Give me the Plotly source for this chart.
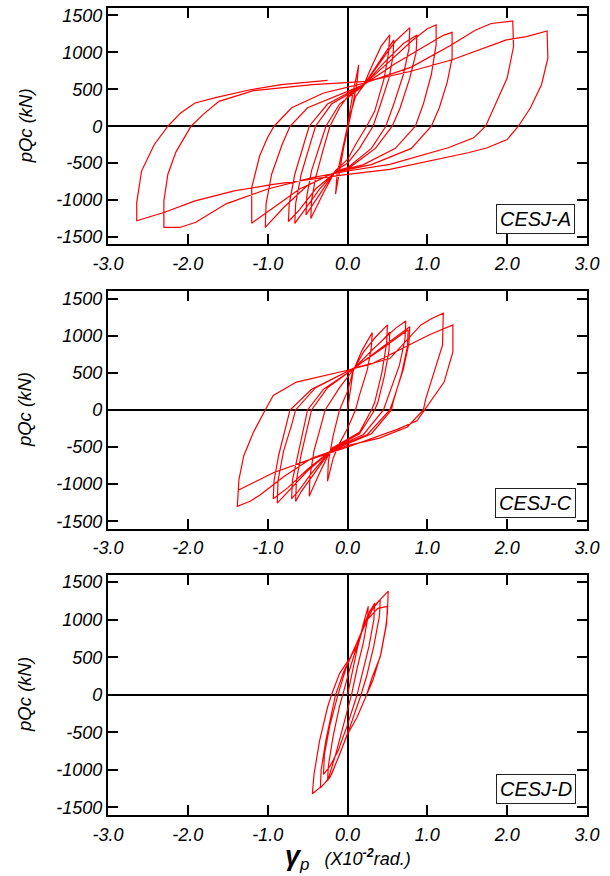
import plotly.graph_objects as go

# ---------------- data ----------------
x_ticks = [-3.0, -2.0, -1.0, 0.0, 1.0, 2.0, 3.0]
x_tick_text = ["-3.0", "-2.0", "-1.0", "0.0", "1.0", "2.0", "3.0"]
y_ticks = [-1500, -1000, -500, 0, 500, 1000, 1500]
y_tick_text = ["-1500", "-1000", "-500", "0", "500", "1000", "1500"]
specimens = ["CESJ-A", "CESJ-C", "CESJ-D"]

# CESJ-A : plastic shear rotation (x10^-2 rad) and shear force (kN)
gamma_A = [0, 0.06, 0.14, 0.12, 0.05, -0.05, -0.15, -0.13, -0.05, 0.02,
           0.1, 0.2, 0.3, 0.42, 0.53,
           0.51, 0.46, 0.34, 0.24, 0.1, 0, -0.15, -0.3, -0.42, -0.46,
           -0.45, -0.40, -0.3, -0.22, -0.1, 0.0, 0.2, 0.35, 0.5, 0.58,
           0.57, 0.52, 0.4, 0.32, 0.15, 0, -0.15, -0.3, -0.45, -0.52,
           -0.51, -0.45, -0.33, -0.27, -0.1, 0.2, 0.4, 0.6, 0.78,
           0.77, 0.7, 0.58, 0.48, 0.3, 0, -0.15, -0.35, -0.55, -0.66,
           -0.65, -0.58, -0.47, -0.4, -0.2, 0.2, 0.45, 0.7, 0.87,
           0.86, 0.78, 0.66, 0.56, 0.35, 0, -0.15, -0.4, -0.6, -0.74,
           -0.73, -0.66, -0.55, -0.48, -0.25, 0.2, 0.5, 0.8, 1.0, 1.11,
           1.11, 1.05, 0.95, 0.85, 0.6, 0.2, -0.15, -0.5, -0.8, -1.03,
           -1.02, -0.95, -0.82, -0.72, -0.5, 0.2, 0.6, 1.0, 1.2, 1.31,
           1.31, 1.25, 1.15, 1.05, 0.8, 0.3, -0.15, -0.6, -1.0, -1.2,
           -1.2, -1.1, -1.0, -0.92, -0.7, -0.3, 0.2, 0.8, 1.3, 1.6, 1.8, 2.07,
           2.08, 2.0, 1.87, 1.73, 1.58, 1.26, 0.53, 0, -0.44, -1.0, -1.52, -1.9, -2.1, -2.3,
           -2.3, -2.25, -2.15, -1.96, -1.81, -1.61, -1.18, -0.44, 0.24, 0.78, 1.31, 1.70, 1.99, 2.24, 2.50,
           2.51, 2.43, 2.29, 2.14, 2.0, 1.75, 1.51, 1.02, 0.53, 0, -0.93, -1.42, -1.91, -2.30, -2.64,
           -2.64, -2.58, -2.42, -2.25, -2.09, -1.91, -1.64, -1.22, -0.83, -0.25]
Q_A = [0, 400, 830, 600, 200, -300, -920, -650, -250, 100,
       400, 550, 800, 1080, 1235,
       966, 651, 202, 0, -250, -450, -600, -900, -1150, -1249,
       -1000, -700, -300, 0, 250, 400, 550, 800, 1050, 1168,
       950, 650, 250, 0, -300, -500, -600, -850, -1100, -1200,
       -950, -600, -200, 0, 300, 550, 850, 1150, 1334,
       1050, 700, 300, 0, -300, -560, -610, -850, -1150, -1316,
       -1050, -650, -250, 0, 300, 550, 850, 1120, 1235,
       1000, 650, 250, 0, -300, -580, -620, -850, -1130, -1289,
       -1050, -650, -250, 0, 300, 560, 850, 1150, 1320, 1370,
       1100, 700, 300, 0, -300, -520, -620, -800, -1100, -1370,
       -1050, -650, -250, 0, 250, 560, 850, 1100, 1230, 1271,
       921, 600, 250, 0, -300, -520, -620, -850, -1150, -1312,
       -831, -400, -150, 0, 250, 450, 580, 800, 1100, 1300, 1390, 1424,
       1078, 651, 337, 0, -157, -292, -517, -606, -696, -850, -1050, -1300, -1370, -1370,
       -1011, -650, -350, 0, 157, 337, 481, 562, 606, 741, 900, 1056, 1168, 1213, 1289,
       921, 562, 247, 0, -180, -292, -359, -472, -584, -651, -786, -876, -1011, -1168, -1280,
       -1030, -607, -247, 0, 180, 314, 391, 494, 562, 620]

# CESJ-C
gamma_C = [0, 0.03, 0.07, 0.18, 0.31,
           0.3, 0.25, 0.15, 0.1, 0, -0.1, -0.18, -0.25,
           -0.24, -0.18, -0.1, 0, 0.07, 0.2, 0.35, 0.5,
           0.49, 0.43, 0.34, 0.3, 0.15, -0.2, -0.35, -0.48,
           -0.47, -0.42, -0.33, -0.28, -0.1, 0.07, 0.3, 0.45, 0.53,
           0.52, 0.46, 0.38, 0.34, 0.15, -0.2, -0.45, -0.58, -0.65,
           -0.64, -0.58, -0.5, -0.45, -0.25, 0.07, 0.35, 0.6, 0.73,
           0.72, 0.65, 0.52, 0.45, 0.2, -0.2, -0.45, -0.62, -0.70,
           -0.69, -0.62, -0.55, -0.5, -0.3, 0.07, 0.4, 0.65, 0.78,
           0.77, 0.7, 0.58, 0.53, 0.25, -0.2, -0.5, -0.75, -0.93,
           -0.92, -0.86, -0.78, -0.72, -0.45, 0.07, 0.4, 0.65, 0.76,
           0.75, 0.68, 0.57, 0.55, 0.3, -0.2, -0.5, -0.75, -0.88,
           -0.87, -0.8, -0.7, -0.65, -0.4, 0.07, 0.53, 0.92, 1.05, 1.20,
           1.19, 1.07, 0.98, 0.95, 0.75, 0.4, 0.0, -0.45, -0.8, -1.1, -1.22, -1.38,
           -1.36, -1.30, -1.18, -1.03, -0.93, -0.64, 0.0, 0.3, 0.78, 1.02, 1.32,
           1.32, 1.21, 0.97, 0.87, 0.63, 0.04, -0.5, -0.93, -1.37]
Q_C = [0, 250, 520, 800, 1042,
       850, 550, 200, 0, -250, -450, -650, -960,
       -700, -350, 0, 250, 530, 780, 980, 1146,
       900, 500, 100, 0, -300, -520, -850, -1164,
       -900, -550, -200, 0, 300, 540, 800, 950, 1050,
       800, 450, 100, 0, -320, -530, -900, -1100, -1232,
       -950, -600, -250, 0, 300, 550, 850, 1100, 1200,
       950, 600, 200, 0, -330, -530, -850, -1100, -1196,
       -950, -600, -250, 0, 280, 550, 820, 1020, 1123,
       900, 550, 150, 0, -330, -540, -800, -1050, -1196,
       -950, -600, -250, 0, 280, 560, 800, 1000, 1080,
       850, 500, 100, 0, -320, -545, -820, -1100, -1255,
       -950, -550, -200, 0, 300, 560, 693, 1146, 1230, 1305,
       874, 466, 150, 0, -230, -380, -480, -650, -900, -1150, -1230, -1300,
       -938, -620, -303, 0, 195, 376, 535, 620, 874, 1010, 1146,
       784, 376, 0, -145, -258, -485, -680, -847, -1083]

# CESJ-D
gamma_D = [0, 0.05, 0.12, 0.2, 0.26,
           0.25, 0.2, 0.12, 0.05, -0.05, -0.15, -0.25,
           -0.24, -0.18, -0.1, -0.06, 0.03, 0.15, 0.25, 0.34,
           0.33, 0.27, 0.18, 0.12, 0.0, -0.12, -0.22, -0.30,
           -0.29, -0.22, -0.12, -0.02, 0.1, 0.22, 0.32, 0.41,
           0.4, 0.33, 0.24, 0.17, 0.04, -0.1, -0.22, -0.34,
           -0.33, -0.27, -0.18, -0.15, -0.05, 0.1, 0.25, 0.38, 0.50,
           0.49, 0.42, 0.32, 0.24, 0.12, 0, -0.1, -0.2, -0.3, -0.44,
           -0.42, -0.35, -0.25, -0.2, -0.1, 0.04, 0.14, 0.21, 0.29, 0.41, 0.51,
           0.5, 0.48, 0.41, 0.31, 0.24]
Q_D = [0, 250, 600, 950, 1178,
       1000, 700, 350, 0, -400, -800, -1150,
       -950, -550, -150, 0, 350, 750, 1050, 1222,
       1000, 650, 250, 0, -400, -750, -950, -1061,
       -800, -400, 0, 350, 650, 950, 1150, 1267,
       1050, 650, 250, 0, -400, -800, -1100, -1240,
       -1000, -600, -150, 0, 300, 650, 1000, 1150, 1178,
       950, 550, 200, 0, -300, -524, -793, -1061, -1196, -1317,
       -1061, -613, -166, 0, 282, 506, 685, 954, 1133, 1267, 1379,
       1088, 909, 506, 237, 0]

# ---------------- figure ----------------
FONT = "Liberation Sans, Arial, sans-serif"
series = [(gamma_A, Q_A), (gamma_C, Q_C), (gamma_D, Q_D)]
y_domains = [[0.7070, 1.0], [0.3548, 0.6490], [0.0, 0.2979]]

fig = go.Figure()
for i, (gx, qy) in enumerate(series):
    suffix = "" if i == 0 else str(i + 1)
    fig.add_trace(go.Scatter(
        x=gx, y=qy, mode="lines",
        line=dict(color="#ff0000", width=1.2),
        xaxis="x" + suffix, yaxis="y" + suffix,
        showlegend=False, hoverinfo="skip"))

layout = dict(
    width=610, height=876,
    margin=dict(l=108, r=23, t=6, b=61),
    paper_bgcolor="white", plot_bgcolor="white",
    font=dict(family=FONT, size=18, color="black", style="italic"),
    showlegend=False,
)

axis_common = dict(
    showline=True, linecolor="black", linewidth=2.2, mirror="ticks",
    ticks="inside", ticklen=10, tickwidth=2, tickcolor="black",
    showgrid=False, zeroline=True, zerolinecolor="black", zerolinewidth=1.8,
    tickfont=dict(family=FONT, size=18, color="black", style="italic"),
)

annotations = []
for i in range(3):
    suffix = "" if i == 0 else str(i + 1)
    layout["xaxis" + suffix] = dict(
        axis_common, range=[-3, 3], tickvals=x_ticks, ticktext=x_tick_text,
        anchor="y" + suffix, domain=[0, 1], ticklabelstandoff=2)
    layout["yaxis" + suffix] = dict(
        axis_common, range=[-1600, 1600], tickvals=y_ticks, ticktext=y_tick_text,
        anchor="x" + suffix, domain=y_domains[i])
    annotations.append(dict(
        text="pQc (kN)", textangle=-90, showarrow=False,
        xref="paper", x=-0.173, xanchor="center",
        yref="y" + suffix, y=0, yanchor="middle",
        font=dict(family=FONT, size=18.5, color="black", style="italic")))
    annotations.append(dict(
        text=specimens[i], showarrow=False,
        xref="x" + suffix, x=2.36, xanchor="center",
        yref="y" + suffix, y=-1250, yanchor="middle",
        font=dict(family=FONT, size=20, color="black", style="italic"),
        bordercolor="#222222", borderwidth=1, borderpad=3, bgcolor="white"))

annotations.append(dict(
    text=("<span style='font-size:27px'><b>γ</b></span>"
          "<span style='font-size:17px;baseline-shift:-5px'>p</span>"
          "   (X10<sup><b>-2</b></sup>rad.)"),
    showarrow=False, xref="paper", x=0.5, xanchor="center",
    yref="paper", y=-0.053, yanchor="middle",
    font=dict(family=FONT, size=18, color="black", style="italic")))

layout["annotations"] = annotations
fig.update_layout(**layout)

fig.write_html("out.html")
